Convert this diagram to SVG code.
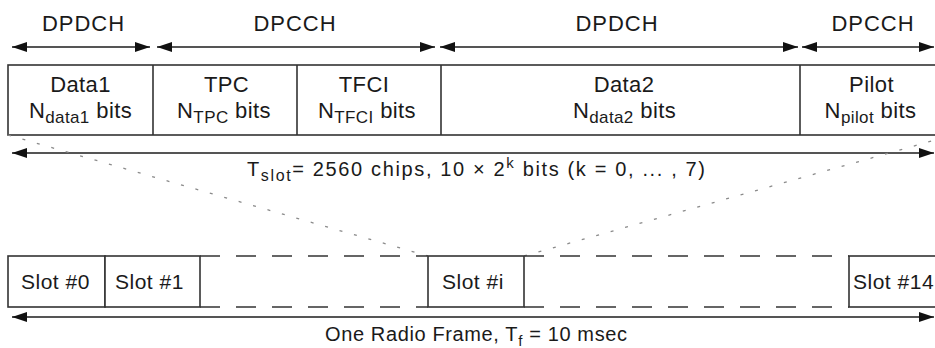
<svg xmlns="http://www.w3.org/2000/svg" width="935" height="348" viewBox="0 0 935 348">
<defs>
<marker id="ah" viewBox="0 0 15 10" refX="15" refY="5" markerWidth="15" markerHeight="10" markerUnits="userSpaceOnUse" orient="auto-start-reverse">
<path d="M0,0 L15,5 L0,10 z" fill="#111"/>
</marker>
<style>
text{font-family:"Liberation Sans",Arial,sans-serif;fill:#1a1a1a}
.hd{font-size:22px;text-anchor:middle;letter-spacing:1px}
.lb{font-size:22px;text-anchor:middle;letter-spacing:0.4px}
.sl{font-size:21px;letter-spacing:0.5px}
.ft{font-size:20px}
.sub{font-size:17px}
.box{fill:#fff;stroke:#333;stroke-width:1.6}
.div{stroke:#333;stroke-width:1.6}
.arr{stroke:#555;stroke-width:2.2;fill:none;marker-start:url(#ah);marker-end:url(#ah)}
.dot{stroke:#8a8a8a;stroke-width:1.3;stroke-dasharray:3 12;fill:none}
.dash{stroke:#333;stroke-width:1.6;stroke-dasharray:20 16;fill:none}
</style>
</defs>
<rect width="935" height="348" fill="#fff"/>

<g id="channel-labels">
<text class="hd" x="83.5" y="31">DPDCH</text>
<text class="hd" x="295" y="31">DPCCH</text>
<text class="hd" x="617" y="31">DPDCH</text>
<text class="hd" x="873" y="31">DPCCH</text>
</g>

<g id="slot-structure">
<rect class="box" x="8" y="65" width="940" height="70"/>
</g>
<g id="field-data1">
<text class="lb" x="80.5" y="92">Data1</text>
<text class="lb" x="80.5" y="118">N<tspan class="sub" dy="5">data1</tspan><tspan dy="-5"> bits</tspan></text>
</g>
<g id="field-tpc">
<line class="div" x1="153" y1="65" x2="153" y2="135"/>
<text class="lb" x="226.5" y="92">TPC</text>
<text class="lb" x="224" y="118">N<tspan class="sub" dy="5">TPC</tspan><tspan dy="-5"> bits</tspan></text>
</g>
<g id="field-tfci">
<line class="div" x1="297" y1="65" x2="297" y2="135"/>
<text class="lb" x="364" y="92">TFCI</text>
<text class="lb" x="367" y="118">N<tspan class="sub" dy="5">TFCI</tspan><tspan dy="-5"> bits</tspan></text>
</g>
<g id="field-data2">
<line class="div" x1="441" y1="65" x2="441" y2="135"/>
<text class="lb" x="624" y="92">Data2</text>
<text class="lb" x="624.5" y="118">N<tspan class="sub" dy="5">data2</tspan><tspan dy="-5"> bits</tspan></text>
</g>
<g id="field-pilot">
<line class="div" x1="800" y1="65" x2="800" y2="135"/>
<text class="lb" x="871.5" y="92">Pilot</text>
<text class="lb" x="870.5" y="118">N<tspan class="sub" dy="5">pilot</tspan><tspan dy="-5"> bits</tspan></text>
</g>

<g id="tslot-label">
<text class="ft" x="247" y="176" textLength="458" lengthAdjust="spacing">T<tspan font-size="16" dy="5">slot</tspan><tspan dy="-5">= 2560 chips, 10 × 2</tspan><tspan font-size="15" dy="-8">k</tspan><tspan dy="8"> bits (k = 0, ... , 7)</tspan></text>
</g>

<g id="slot-0">
<rect class="box" x="8" y="256" width="97" height="51"/>
<text class="sl" x="21" y="289">Slot #0</text>
</g>
<g id="slot-1">
<rect class="box" x="105" y="256" width="95" height="51"/>
<text class="sl" x="115" y="289">Slot #1</text>
</g>
<g id="slot-i">
<rect class="box" x="428" y="256" width="96" height="51"/>
<text class="sl" x="442" y="289">Slot #i</text>
</g>
<g id="slot-14">
<rect class="box" x="849" y="256" width="100" height="51"/>
<text class="sl" x="853" y="289">Slot #14</text>
</g>

<g id="frame-label">
<text class="ft" x="325" y="341" textLength="302" lengthAdjust="spacing">One Radio Frame, T<tspan font-size="15" dy="5">f</tspan><tspan dy="-5"> = 10 msec</tspan></text>
</g>

<g id="connectors">
<line class="arr" x1="12" y1="47" x2="150" y2="47"/>
<line class="arr" x1="157" y1="47" x2="435" y2="47"/>
<line class="arr" x1="440" y1="47" x2="798" y2="47"/>
<line class="arr" x1="802" y1="47" x2="934" y2="47"/>
<line class="arr" x1="12" y1="153" x2="934" y2="153"/>
<line class="arr" x1="12" y1="317" x2="934" y2="317"/>
<line class="dot" x1="8" y1="135" x2="428" y2="256"/>
<line class="dot" x1="524" y1="256" x2="953" y2="135"/>
<line class="dash" x1="200" y1="256" x2="428" y2="256"/>
<line class="dash" x1="200" y1="307" x2="428" y2="307"/>
<line class="dash" x1="524" y1="256" x2="849" y2="256"/>
<line class="dash" x1="524" y1="307" x2="849" y2="307"/>
</g>
</svg>
